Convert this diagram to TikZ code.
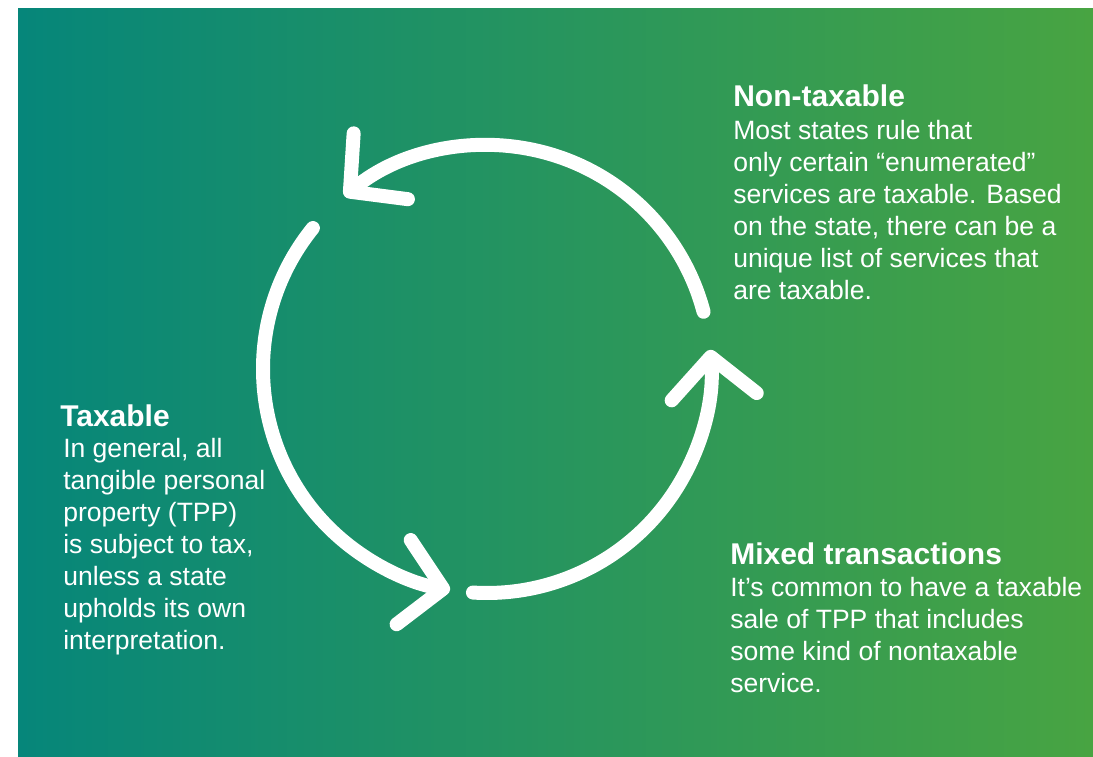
\documentclass[tikz,border=0pt]{standalone}
\usepackage{fontspec}
\setmainfont{Liberation Sans}
\usepackage{tikz}
\usetikzlibrary{arrows.meta, positioning, calc}
\usepackage{xcolor}
\definecolor{taxteal}{RGB}{6,134,122}
\definecolor{taxgreen}{RGB}{72,164,66}

\begin{document}
\begin{tikzpicture}[
  x=0.75pt, y=0.75pt,
  heading/.style={anchor=base west, inner sep=0pt, text=white, font=\bfseries\fontsize{22.5}{27}\selectfont},
  blurb/.style={anchor=base west, inner sep=0pt, text=white, align=left, font=\fontsize{19.9}{24}\selectfont},
  cyclearc/.style={white, line width=10.5pt, line cap=round, -{Straight Barb[length=30pt, width=64pt, round]}},
]
  \useasboundingbox (0,0) rectangle (1093,757);
  \shade[left color=taxteal, right color=taxgreen] (18,0) rectangle (1093,748);

  % the cycle
  \coordinate (hub) at (487,388);
  \draw[cyclearc] ([shift={(14.8:224)}]hub) arc[start angle=14.8, end angle=129.5, radius=224];
  \draw[cyclearc] ([shift={(141:224)}]hub) arc[start angle=141, end angle=260.5, radius=224];
  \draw[cyclearc] ([shift={(266.4:224)}]hub) arc[start angle=266.4, end angle=364.9, radius=224];

  % Non-taxable (blurb base = its last line)
  \node[heading] (nontax) at (733,650) {Non-taxable};
  \node[blurb] (nontaxtext) at (733,457) {Most states rule that\\only certain “enumerated”\\services are taxable. Based\\on the state, there can be a\\unique list of services that\\are taxable.};

  % Taxable
  \node[heading] (tax) at (60,330) {Taxable};
  \node[blurb] (taxtext) at (63,107) {In general, all\\tangible personal\\property (TPP)\\is subject to tax,\\unless a state\\upholds its own\\interpretation.};

  % Mixed transactions
  \node[heading] (mixed) at (730,192) {Mixed transactions};
  \node[blurb] (mixedtext) at (730,64) {It’s common to have a taxable\\sale of TPP that includes\\some kind of nontaxable\\service.};
\end{tikzpicture}
\end{document}
